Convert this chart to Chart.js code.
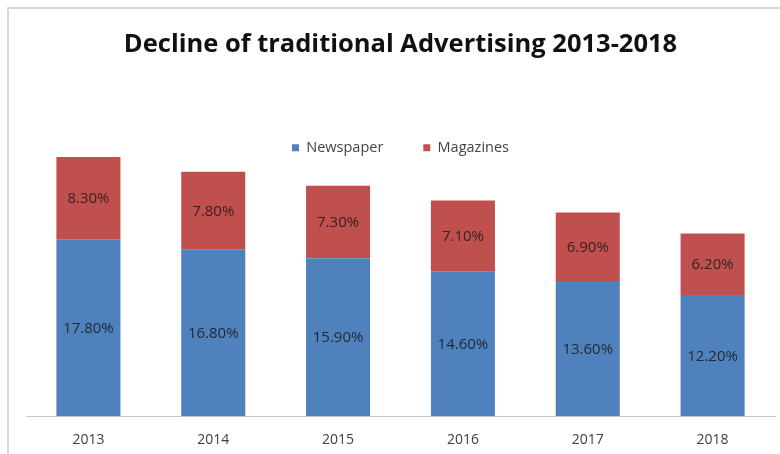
<!DOCTYPE html>
<html>
<head>
<meta charset="utf-8">
<title>Decline of traditional Advertising 2013-2018</title>
<script src="https://cdn.jsdelivr.net/npm/chart.js@4/dist/chart.umd.min.js"></script>
<style>
    html, body { margin: 0; padding: 0; background: #fff; }
    body { width: 780px; height: 454px; overflow: hidden; position: relative; }
    #frame {
        position: absolute; left: 7px; top: 7px; width: 800px; height: 460px;
        border-top: 2px solid #d9d9d9; border-left: 2px solid #d9d9d9;
    }
    #chart-ads { position: absolute; left: 8px; top: 8px; }
</style>
</head>
<body>
<div id="frame"></div>
<canvas id="chart-ads" width="788" height="462"></canvas>
<script>
const YEARS     = ["2013", "2014", "2015", "2016", "2017", "2018"];
const NEWSPAPER = [17.8, 16.8, 15.9, 14.6, 13.6, 12.2];
const MAGAZINES = [8.3, 7.8, 7.3, 7.1, 6.9, 6.2];

const BLUE = "#4f81bd";
const RED  = "#c0504d";
const FONT = "'Open Sans', sans-serif";

// Percent labels centred inside each stacked segment
const segmentLabels = {
    id: "segmentLabels",
    afterDatasetsDraw(chart) {
        const ctx = chart.ctx;
        ctx.save();
        ctx.font = "15px " + FONT;
        ctx.fillStyle = "rgba(25, 25, 25, 0.85)";
        ctx.textAlign = "center";
        ctx.textBaseline = "middle";
        chart.data.datasets.forEach((ds, i) => {
            chart.getDatasetMeta(i).data.forEach((bar, j) => {
                const {x, y, base} = bar.getProps(["x", "y", "base"], true);
                ctx.fillText(ds.data[j].toFixed(2) + "%", x, (y + base) / 2 + 1);
            });
        });
        ctx.restore();
    }
};

// Let the legend sit over the top of the plot instead of pushing it down:
// reserve only a sliver of height, then widen its clip box again after layout
const legendOverlap = {
    id: "legendOverlap",
    beforeInit(chart) {
        const fit = chart.legend.fit;
        chart.legend.fit = function () {
            fit.bind(chart.legend)();
            this.height = 7.6;
        };
    },
    afterLayout(chart) {
        chart.legend.bottom = chart.legend.top + 80;
    }
};

new Chart(document.getElementById("chart-ads").getContext("2d"), {
    type: "bar",
    data: {
        labels: YEARS,
        datasets: [
            { label: "Newspaper", data: NEWSPAPER, backgroundColor: BLUE },
            { label: "Magazines", data: MAGAZINES, backgroundColor: RED },
        ]
    },
    options: {
        responsive: false,
        animation: false,
        layout: { padding: { left: 18, right: 21, top: 0, bottom: 7 } },
        categoryPercentage: 1,
        barPercentage: 0.513,
        plugins: {
            title: {
                display: true,
                text: "Decline of traditional Advertising 2013-2018",
                color: "#111",
                font: { family: FONT, size: 25.5, weight: "bold", lineHeight: 1.2 },
                padding: { top: 21, bottom: 41 }
            },
            legend: {
                position: "top",
                labels: {
                    boxWidth: 7,
                    boxHeight: 7,
                    padding: 40,
                    color: "#444",
                    font: { family: FONT, size: 14.5 }
                }
            },
            tooltip: { enabled: false }
        },
        scales: {
            x: {
                stacked: true,
                grid: { display: false, drawTicks: false },
                border: { display: true, color: "#c8c8c8", width: 1 },
                ticks: { color: "#404040", padding: 15, font: { family: FONT, size: 14 } }
            },
            y: {
                stacked: true,
                display: false,
                min: 0,
                max: 31
            }
        }
    },
    plugins: [segmentLabels, legendOverlap]
});
</script>
</body>
</html>
